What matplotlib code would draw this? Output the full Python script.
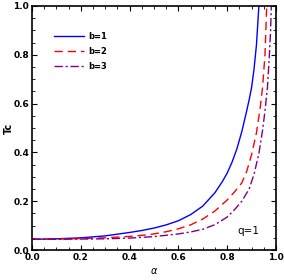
import matplotlib
matplotlib.use("Agg")
import matplotlib.pyplot as plt
from matplotlib.ticker import MultipleLocator

# data
alpha_b1 = [0.0, 0.1, 0.2, 0.3, 0.4, 0.45, 0.5, 0.55, 0.6, 0.65, 0.7, 0.75, 0.78, 0.8, 0.82,
            0.84, 0.86, 0.88, 0.89, 0.9, 0.91, 0.92, 0.93]
tc_b1 = [0.044, 0.046, 0.050, 0.058, 0.072, 0.080, 0.090, 0.103, 0.12, 0.145, 0.18, 0.235, 0.28,
         0.315, 0.36, 0.415, 0.485, 0.57, 0.615, 0.665, 0.74, 0.84, 1.0]

alpha_b2 = [0.0, 0.1, 0.2, 0.3, 0.4, 0.45, 0.5, 0.55, 0.6, 0.65, 0.7, 0.75, 0.8, 0.83, 0.86,
            0.88, 0.9, 0.92, 0.935, 0.945, 0.955, 0.962]
tc_b2 = [0.044, 0.045, 0.047, 0.050, 0.056, 0.060, 0.066, 0.075, 0.087, 0.103, 0.127, 0.16, 0.205,
         0.238, 0.275, 0.322, 0.39, 0.48, 0.58, 0.665, 0.8, 1.0]

alpha_b3 = [0.0, 0.1, 0.2, 0.3, 0.4, 0.5, 0.6, 0.65, 0.7, 0.75, 0.8, 0.83, 0.86, 0.89, 0.91,
            0.93, 0.945, 0.955, 0.965, 0.972, 0.978, 0.981]
tc_b3 = [0.044, 0.044, 0.045, 0.046, 0.049, 0.055, 0.066, 0.074, 0.085, 0.104, 0.135, 0.165, 0.2,
         0.25, 0.31, 0.395, 0.49, 0.57, 0.665, 0.78, 0.9, 1.0]

labels = ["b=1", "b=2", "b=3"]

fig = plt.figure(figsize=(2.84, 2.80), dpi=100)
ax = fig.add_axes([0.1127, 0.107, 0.859, 0.872])

ax.plot(alpha_b1, tc_b1, color="#0000ff", lw=1.0, label=labels[0])
ax.plot(alpha_b2, tc_b2, color="#ff0000", lw=1.0, dashes=(6, 3.5), label=labels[1])
ax.plot(alpha_b3, tc_b3, color="#800080", lw=1.0, dashes=(6, 2, 1.5, 2), label=labels[2])

ax.set_xlim(0, 1)
ax.set_ylim(0, 1)
ax.xaxis.set_major_locator(MultipleLocator(0.2))
ax.yaxis.set_major_locator(MultipleLocator(0.2))
ax.xaxis.set_minor_locator(MultipleLocator(0.05))
ax.yaxis.set_minor_locator(MultipleLocator(0.05))
ax.tick_params(which="both", direction="in", top=True, right=True, labelsize=6.5, pad=2)
ax.tick_params(which="major", length=3.5, width=0.8)
ax.tick_params(which="minor", length=2, width=0.6)
for lab in ax.get_xticklabels() + ax.get_yticklabels():
    lab.set_fontweight("bold")
for s in ax.spines.values():
    s.set_linewidth(1.2)

ax.set_xlabel(r"$\alpha$", fontsize=7, labelpad=3)
ax.set_ylabel("Tc", fontsize=7, fontweight="bold")
ax.yaxis.set_label_coords(-0.075, 0.5)

leg = ax.legend(loc="upper left", bbox_to_anchor=(0.06, 0.925), frameon=False,
                handlelength=3.6, handletextpad=0.5, labelspacing=0.75,
                prop={"weight": "bold", "size": 6})
ax.text(0.885, 0.079, "q=1", transform=ax.transAxes, ha="center", va="center", fontsize=7.5)

fig.savefig("out.png", dpi=100)
